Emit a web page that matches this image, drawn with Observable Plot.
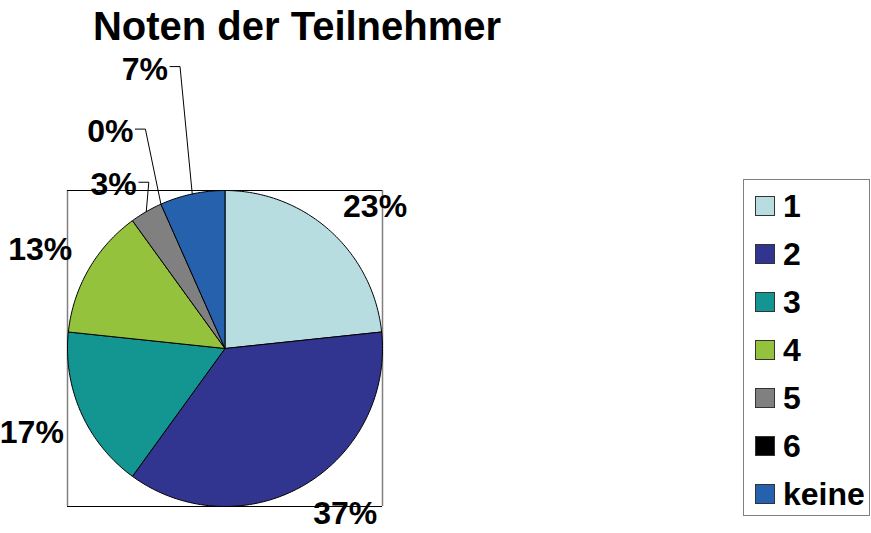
<!DOCTYPE html>
<html><head><meta charset="utf-8">
<script src="https://cdn.jsdelivr.net/npm/d3@7"></script>
<script src="https://cdn.jsdelivr.net/npm/@observablehq/plot@0.6"></script>
<style>
html,body{margin:0;padding:0;background:#fff;}
#wrap{position:relative;width:871px;height:533px;overflow:hidden;font-family:"Liberation Sans",Arial,sans-serif;}
#title{position:absolute;left:0;top:6px;width:594px;text-align:center;font-size:40px;font-weight:bold;line-height:40px;color:#000;}
#chart{position:absolute;left:0;top:0;}
#legend{position:absolute;left:743px;top:179px;width:127px;height:337px;border:1px solid #808080;box-sizing:border-box;}
.item{position:absolute;left:0;height:32px;display:flex;align-items:center;}
.sw{width:20px;height:20px;box-sizing:border-box;border:1px solid #333;margin-left:11px;margin-right:8px;}
.lab{font-size:32px;font-weight:bold;line-height:32px;color:#000;}
</style></head><body>
<div id="wrap"><div id="chart"></div><div id="title"></div><div id="legend"></div></div>
<script>
const title = "Noten der Teilnehmer";
const grades = ["1", "2", "3", "4", "5", "6", "keine"];
const counts = [7, 11, 5, 4, 1, 0, 2];
const colors = ["#b8dde1", "#31358f", "#139691", "#95c23d", "#808080", "#000000", "#2561ad"];

document.getElementById("title").textContent = title;

const total = d3.sum(counts);
let cum = 0;
const slices = grades.map((g, i) => {
  const a0 = cum / total * 2 * Math.PI;
  cum += counts[i];
  const a1 = cum / total * 2 * Math.PI;
  return {g, i, a0, a1, mid: (a0 + a1) / 2, pct: Math.round(counts[i] / total * 100)};
});

// pie wedges as closed polygons in unit-circle data space (clockwise from 12 o'clock)
const piePts = [];
for (const s of slices) {
  if (s.a1 <= s.a0) continue;
  piePts.push({g: s.g, x: 0, y: 0});
  const n = Math.max(2, Math.ceil((s.a1 - s.a0) / (Math.PI / 180)));
  for (let k = 0; k <= n; k++) {
    const t = s.a0 + (s.a1 - s.a0) * k / n;
    piePts.push({g: s.g, x: Math.sin(t), y: Math.cos(t)});
  }
  piePts.push({g: s.g, x: 0, y: 0});
}

// label anchors: outside the pie, small neighbouring slices staggered outward
const kx = 315 / 2, ky = 316 / 2;
let prevSmall = false, r = 1.12;
const labels = slices.map(s => {
  const small = s.pct < 8;
  r = (small && prevSmall) ? r + 0.31 : 1.12;
  prevSmall = small;
  const sx = Math.sin(s.mid), cy = Math.cos(s.mid);
  return {...s, small, x: r * sx, y: r * cy, text: s.pct + "%",
          h: sx >= 0 ? "start" : "end", v: cy >= 0 ? "bottom" : "top"};
});

// leader lines for the small slices
const leaderPts = [];
for (const l of labels) {
  if (!l.small) continue;
  const dir = l.h === "end" ? 1 : -1;
  const x0 = l.x + dir * 2 / kx, y0 = l.y + 13 / ky;
  leaderPts.push({g: l.g, x: x0, y: y0});
  leaderPts.push({g: l.g, x: x0 + dir * 10 / kx, y: y0});
  leaderPts.push({g: l.g, x: Math.sin(l.mid), y: Math.cos(l.mid)});
}

const textMarks = [];
for (const h of ["start", "end"]) for (const v of ["top", "bottom"]) {
  const sub = labels.filter(d => d.h === h && d.v === v);
  if (sub.length) textMarks.push(Plot.text(sub, {x: "x", y: "y", text: "text", textAnchor: h, lineAnchor: v,
    fontSize: 32, fontWeight: "bold", fill: "#000"}));
}

const chart = Plot.plot({
  width: 871, height: 533,
  marginLeft: 67, marginRight: 489, marginTop: 190, marginBottom: 27,
  x: {domain: [-1, 1], axis: null},
  y: {domain: [-1, 1], axis: null},
  color: {domain: grades, range: colors},
  style: {fontFamily: "'Liberation Sans', Arial, sans-serif", background: "transparent", overflow: "visible"},
  marks: [
    Plot.ruleX([-1, 1], {stroke: "#808080", strokeWidth: 1.5}),
    Plot.ruleY([-1, 1], {stroke: "#000", strokeWidth: 1}),
    Plot.line(piePts, {x: "x", y: "y", z: "g", fill: "g", stroke: "#000", strokeWidth: 1, curve: "linear"}),
    Plot.line(leaderPts, {x: "x", y: "y", z: "g", stroke: "#000", strokeWidth: 1}),
    ...textMarks
  ]
});
document.getElementById("chart").appendChild(chart);

// legend
const legend = document.getElementById("legend");
grades.forEach((g, i) => {
  const item = document.createElement("div");
  item.className = "item";
  item.style.top = (10 + i * 48) + "px";
  const sw = document.createElement("div");
  sw.className = "sw";
  sw.style.background = colors[i];
  const lab = document.createElement("span");
  lab.className = "lab";
  lab.textContent = g;
  item.appendChild(sw); item.appendChild(lab);
  legend.appendChild(item);
});
</script>
</body></html>
